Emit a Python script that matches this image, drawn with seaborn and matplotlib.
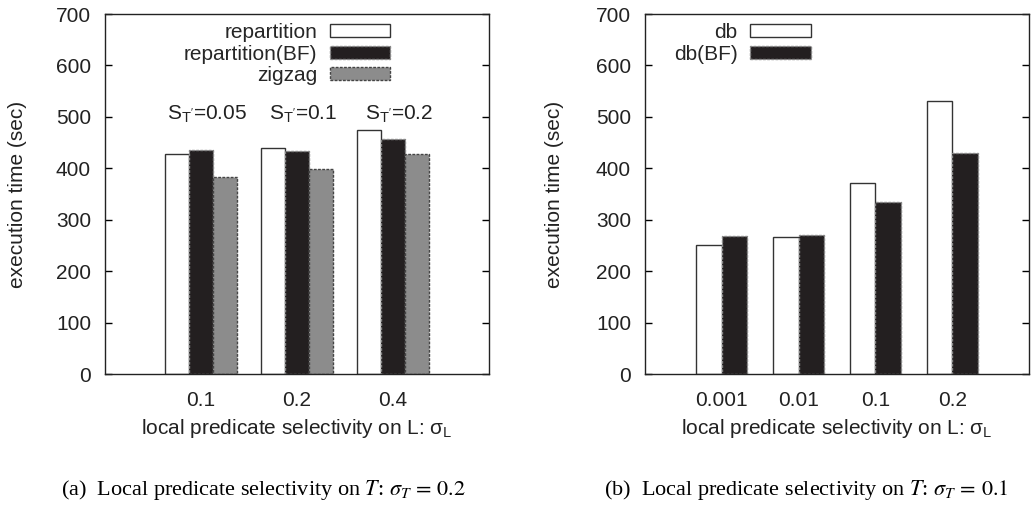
import matplotlib
matplotlib.use("Agg")
import matplotlib.pyplot as plt
import seaborn as sns
import pandas as pd
from matplotlib.patches import Patch

# ---- data ----
left_categories = ["0.1", "0.2", "0.4"]
left_series = ["repartition", "repartition(BF)", "zigzag"]
left_repartition = [428, 440, 474]
left_repartition_bf = [435, 433, 457]
left_zigzag = [384, 398, 427]
left_annotations = ["S$_{\\mathrm{T'}}$=0.05", "S$_{\\mathrm{T'}}$=0.1", "S$_{\\mathrm{T'}}$=0.2"]

right_categories = ["0.001", "0.01", "0.1", "0.2"]
right_series = ["db", "db(BF)"]
right_db = [250, 266, 372, 530]
right_db_bf = [268, 270, 335, 430]

y_ticks = [0, 100, 200, 300, 400, 500, 600, 700]

sns.set_theme(style="white")
plt.rcParams["font.family"] = ["Liberation Sans", "DejaVu Sans"]
plt.rcParams["mathtext.fontset"] = "custom"
plt.rcParams["mathtext.rm"] = "Liberation Sans"
plt.rcParams["mathtext.it"] = "Liberation Sans:italic"

FS = 15

fills = {"repartition": "white", "repartition(BF)": "#231f20", "zigzag": "#8c8c8c",
         "db": "white", "db(BF)": "#231f20"}
edges = {"repartition": "#333333", "repartition(BF)": "#888888", "zigzag": "#444444",
         "db": "#333333", "db(BF)": "#888888"}
styles = {"repartition": "-", "repartition(BF)": (0, (2, 1)), "zigzag": (0, (2, 1)),
          "db": "-", "db(BF)": (0, (2, 1))}

fig = plt.figure(figsize=(10.32, 5.07), dpi=100)
axL = fig.add_axes([105/1032, 1-374/507, 384/1032, 360/507])
axR = fig.add_axes([645/1032, 1-374/507, 384/1032, 360/507])

dfL = pd.DataFrame({
    "cat": left_categories * 3,
    "series": sum([[s] * 3 for s in left_series], []),
    "value": left_repartition + left_repartition_bf + left_zigzag,
})
dfR = pd.DataFrame({
    "cat": right_categories * 2,
    "series": sum([[s] * 4 for s in right_series], []),
    "value": right_db + right_db_bf,
})


def draw(ax, df, cats, series, width, xlim, legend_x, label_x):
    sns.barplot(data=df, x="cat", y="value", hue="series", order=cats, hue_order=series,
                palette=[fills[s] for s in series], width=width, dodge=True,
                saturation=1, legend=False, ax=ax, errorbar=None)
    for s, cont in zip(series, ax.containers):
        for p in cont:
            p.set_edgecolor(edges[s])
            p.set_linewidth(1.0)
            p.set_linestyle(styles[s])
    ax.set_xlim(*xlim)
    ax.set_ylim(0, 700)
    ax.set_yticks(y_ticks)
    ax.tick_params(axis="y", direction="in", length=5, width=1, left=True, right=True,
                   labelsize=FS, pad=10, color="black", labelcolor="#222222")
    ax.tick_params(axis="x", length=0, labelsize=FS, pad=12, labelcolor="#222222")
    for sp in ax.spines.values():
        sp.set_visible(True)
        sp.set_color("#222222")
        sp.set_linewidth(1.0)
    ax.set_ylabel("execution time (sec)", fontsize=FS, color="#222222")
    ax.yaxis.set_label_coords(label_x, 0.5)
    ax.set_xlabel("local predicate selectivity on L: σ$_{\\mathrm{L}}$", fontsize=FS,
                  color="#222222", labelpad=5)
    handles = [Patch(facecolor=fills[s], edgecolor=edges[s], linestyle=styles[s],
                     linewidth=1.0, label=s) for s in series]
    ax.legend(handles=handles, loc="upper right", bbox_to_anchor=(legend_x, 0.975),
              frameon=False, markerfirst=False, handlelength=2.9, handleheight=0.6,
              handletextpad=0.6, labelspacing=0.12, borderpad=0, borderaxespad=0,
              fontsize=FS)


draw(axL, dfL, left_categories, left_series, 0.75, (-1, 3), 0.742, -0.203)
draw(axR, dfR, right_categories, right_series, 2/3, (-1, 4), 0.431, -0.21)

for i, t in enumerate(left_annotations):
    axL.text(i + 0.06, 505, t, ha="center", va="center", fontsize=FS, color="#222222")

cap_kw = dict(ha="center", va="center", fontsize=16, family="Liberation Serif",
              math_fontfamily="stix", color="black")
fig.text(264/1032, 1-490/507, "(a)  Local predicate selectivity on $T$: $\\sigma_T\\,=\\,0.2$", **cap_kw)
fig.text(806/1032, 1-490/507, "(b)  Local predicate selectivity on $T$: $\\sigma_T\\,=\\,0.1$", **cap_kw)

fig.savefig("out.png", dpi=100)
